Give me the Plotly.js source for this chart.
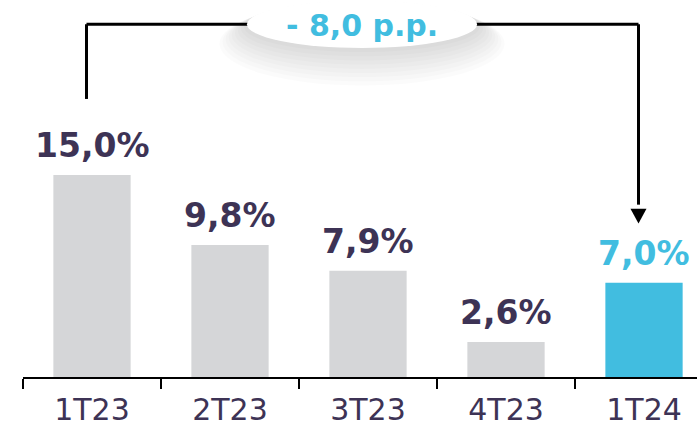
<!DOCTYPE html>
<html>
<head>
<meta charset="utf-8">
<script src="https://cdn.plot.ly/plotly-3.0.1.min.js"></script>
<style>html,body{margin:0;padding:0;background:#fff;}#chart{width:697px;height:427px;}</style>
</head>
<body>
<div id="chart"></div>
<script>
// ---- data ----
const categories = ["1T23", "2T23", "3T23", "4T23", "1T24"];
const values = [15.0, 9.8, 7.9, 2.6, 7.0];
const valueLabels = ["15,0%", "9,8%", "7,9%", "2,6%", "7,0%"];
const changeLabel = "- 8,0 p.p.";

// ---- styles ----
const GRAY = "#d5d6d8";
const CYAN = "#41bde0";
const DARK = "#3d3355";
const barColors = values.map((v, i) => i === values.length - 1 ? CYAN : GRAY);
const labelColors = values.map((v, i) => i === values.length - 1 ? CYAN : DARK);

const trace = {
  type: "bar",
  x: categories,
  y: values,
  width: 0.56,
  marker: { color: barColors, line: { width: 0 } },
  hoverinfo: "skip"
};

const annotations = values.map((v, i) => ({
  x: i, y: v, xref: "x", yref: "y",
  text: "<b>" + valueLabels[i] + "</b>",
  showarrow: false,
  yanchor: "bottom", xanchor: "center",
  yshift: 8,
  font: { family: "DejaVu Sans", size: 33, color: labelColors[i] }
}));

// bracket geometry (decoration, relative to first/last category)
const first = 0, last = values.length - 1;
const bx0 = first - 0.04, bx1 = last - 0.04;
const yTop = 26.2, yLeftBottom = 20.65, yArrowBase = 12.5, yArrowTip = 11.4;
const headHalf = 0.058;

const shapes = [
  { type: "line", xref: "x", yref: "y", x0: bx0, x1: bx0, y0: yLeftBottom, y1: yTop, line: { color: "#000", width: 3 } },
  { type: "line", xref: "x", yref: "y", x0: bx0, x1: bx1, y0: yTop, y1: yTop, line: { color: "#000", width: 3 } },
  { type: "line", xref: "x", yref: "y", x0: bx1, x1: bx1, y0: yTop, y1: yArrowBase + 0.3, line: { color: "#000", width: 3 } },
  { type: "path", xref: "x", yref: "y",
    path: `M ${bx1 - headHalf} ${yArrowBase} L ${bx1 + headHalf} ${yArrowBase} L ${bx1} ${yArrowTip} Z`,
    fillcolor: "#000", line: { width: 0 } }
];

// ellipse soft shadow layers + ellipse
const ex0 = 1.123, ex1 = 2.79, ey0 = 24.44, ey1 = 27.95;
const nLayers = 9;
for (let k = nLayers; k >= 1; k--) {
  const t = k / nLayers;
  shapes.push({
    type: "circle", xref: "x", yref: "y",
    x0: ex0 - 0.2 * t, x1: ex1 + 0.2 * t,
    y0: ey0 - 2.8 * t, y1: ey1 - 0.1 * t,
    fillcolor: "rgba(0,0,0,0.015)", line: { width: 0 }
  });
}
shapes.push({ type: "circle", xref: "x", yref: "y", x0: ex0, x1: ex1, y0: ey0, y1: ey1, fillcolor: "#fff", line: { width: 0 } });

annotations.push({
  x: (ex0 + ex1) / 2, y: (ey0 + ey1) / 2, xref: "x", yref: "y",
  text: "<b>" + changeLabel + "</b>", showarrow: false,
  xanchor: "center", yanchor: "middle", yshift: -1,
  font: { family: "DejaVu Sans", size: 30, color: CYAN }
});

const layout = {
  width: 697, height: 427,
  margin: { l: 23, r: 0, t: 0, b: 50, pad: 0 },
  paper_bgcolor: "#fff", plot_bgcolor: "#fff",
  showlegend: false,
  xaxis: {
    type: "category",
    range: [-0.5, 4.384],
    showline: true, linecolor: "#000", linewidth: 2,
    ticks: "outside", tickson: "boundaries", ticklen: 10, tickwidth: 2, tickcolor: "#000",
    ticklabelstandoff: 5,
    tickfont: { family: "DejaVu Sans", size: 30, color: DARK },
    showgrid: false, zeroline: false, fixedrange: true
  },
  yaxis: { range: [0, 28], visible: false, showgrid: false, zeroline: false, fixedrange: true },
  shapes: shapes,
  annotations: annotations
};

Plotly.newPlot("chart", [trace], layout, { staticPlot: true, displayModeBar: false });
</script>
</body>
</html>
